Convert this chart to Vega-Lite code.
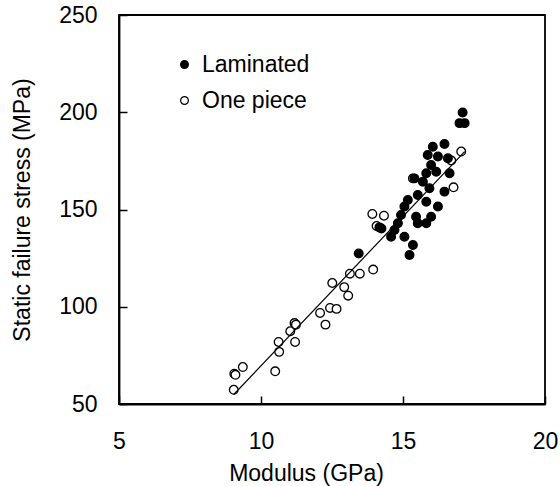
{
  "$schema": "https://vega.github.io/schema/vega-lite/v6.json",
  "description": "Static failure stress against modulus, laminated and one-piece specimens.",
  "autosize": "none",
  "padding": {"left": 119, "top": 15, "right": 15, "bottom": 82},
  "width": 426,
  "height": 389,
  "config": {
    "font": "Liberation Sans",
    "view": {"stroke": "black", "strokeWidth": 1.8},
    "axis": {
      "grid": false,
      "domainColor": "black",
      "domainWidth": 1.8,
      "tickColor": "black",
      "tickWidth": 1.5,
      "labelColor": "black",
      "labelFontSize": 23,
      "labelFont": "Liberation Sans",
      "titleColor": "black",
      "titleFontSize": 23,
      "titleFont": "Liberation Sans",
      "titleFontWeight": "normal"
    }
  },
  "datasets": {
    "specimens": [
      {"modulus": 9.04, "stress": 57.3, "type": "One piece"},
      {"modulus": 9.06, "stress": 65.6, "type": "One piece"},
      {"modulus": 9.1, "stress": 65.0, "type": "One piece"},
      {"modulus": 9.36, "stress": 69.0, "type": "One piece"},
      {"modulus": 10.5, "stress": 66.8, "type": "One piece"},
      {"modulus": 10.62, "stress": 81.9, "type": "One piece"},
      {"modulus": 10.64, "stress": 76.8, "type": "One piece"},
      {"modulus": 11.03, "stress": 87.4, "type": "One piece"},
      {"modulus": 11.18, "stress": 91.6, "type": "One piece"},
      {"modulus": 11.23, "stress": 90.8, "type": "One piece"},
      {"modulus": 11.2, "stress": 81.9, "type": "One piece"},
      {"modulus": 12.08, "stress": 96.8, "type": "One piece"},
      {"modulus": 12.27, "stress": 90.8, "type": "One piece"},
      {"modulus": 12.43, "stress": 99.4, "type": "One piece"},
      {"modulus": 12.66, "stress": 98.9, "type": "One piece"},
      {"modulus": 12.51, "stress": 112.2, "type": "One piece"},
      {"modulus": 12.93, "stress": 110.1, "type": "One piece"},
      {"modulus": 13.07, "stress": 105.7, "type": "One piece"},
      {"modulus": 13.13, "stress": 117.0, "type": "One piece"},
      {"modulus": 13.48, "stress": 117.0, "type": "One piece"},
      {"modulus": 13.95, "stress": 119.1, "type": "One piece"},
      {"modulus": 13.92, "stress": 147.7, "type": "One piece"},
      {"modulus": 14.07, "stress": 141.5, "type": "One piece"},
      {"modulus": 14.33, "stress": 146.8, "type": "One piece"},
      {"modulus": 15.35, "stress": 166.0, "type": "One piece"},
      {"modulus": 16.7, "stress": 175.2, "type": "One piece"},
      {"modulus": 16.78, "stress": 161.4, "type": "One piece"},
      {"modulus": 17.05, "stress": 179.8, "type": "One piece"},
      {"modulus": 13.44, "stress": 127.4, "type": "Laminated"},
      {"modulus": 14.17, "stress": 140.8, "type": "Laminated"},
      {"modulus": 14.24, "stress": 140.2, "type": "Laminated"},
      {"modulus": 14.58, "stress": 136.0, "type": "Laminated"},
      {"modulus": 14.7, "stress": 139.5, "type": "Laminated"},
      {"modulus": 14.82, "stress": 142.9, "type": "Laminated"},
      {"modulus": 14.93, "stress": 147.2, "type": "Laminated"},
      {"modulus": 15.05, "stress": 151.5, "type": "Laminated"},
      {"modulus": 15.05, "stress": 136.0, "type": "Laminated"},
      {"modulus": 15.17, "stress": 154.9, "type": "Laminated"},
      {"modulus": 15.23, "stress": 126.6, "type": "Laminated"},
      {"modulus": 15.35, "stress": 131.7, "type": "Laminated"},
      {"modulus": 15.4, "stress": 166.0, "type": "Laminated"},
      {"modulus": 15.46, "stress": 146.3, "type": "Laminated"},
      {"modulus": 15.52, "stress": 157.5, "type": "Laminated"},
      {"modulus": 15.52, "stress": 142.9, "type": "Laminated"},
      {"modulus": 15.7, "stress": 164.3, "type": "Laminated"},
      {"modulus": 15.82, "stress": 168.6, "type": "Laminated"},
      {"modulus": 15.82, "stress": 154.0, "type": "Laminated"},
      {"modulus": 15.82, "stress": 142.9, "type": "Laminated"},
      {"modulus": 15.87, "stress": 178.0, "type": "Laminated"},
      {"modulus": 15.93, "stress": 160.9, "type": "Laminated"},
      {"modulus": 15.99, "stress": 172.9, "type": "Laminated"},
      {"modulus": 15.99, "stress": 146.3, "type": "Laminated"},
      {"modulus": 16.05, "stress": 182.3, "type": "Laminated"},
      {"modulus": 16.17, "stress": 169.4, "type": "Laminated"},
      {"modulus": 16.23, "stress": 177.2, "type": "Laminated"},
      {"modulus": 16.23, "stress": 151.5, "type": "Laminated"},
      {"modulus": 16.46, "stress": 183.7, "type": "Laminated"},
      {"modulus": 16.46, "stress": 159.2, "type": "Laminated"},
      {"modulus": 16.58, "stress": 176.3, "type": "Laminated"},
      {"modulus": 16.64, "stress": 168.6, "type": "Laminated"},
      {"modulus": 16.99, "stress": 194.4, "type": "Laminated"},
      {"modulus": 17.17, "stress": 194.4, "type": "Laminated"},
      {"modulus": 17.1, "stress": 199.9, "type": "Laminated"}
    ],
    "fit": [
      {"modulus": 9.04, "stress": 54.9},
      {"modulus": 17.17, "stress": 179.8}
    ]
  },
  "resolve": {"axis": {"x": "independent", "y": "independent"}},
  "layer": [
    {
      "data": {"name": "specimens"},
      "mark": {"type": "point", "shape": "circle", "filled": true, "stroke": "black", "strokeWidth": 1.3, "size": 75, "opacity": 1},
      "encoding": {
        "x": {
          "field": "modulus",
          "type": "quantitative",
          "title": "Modulus (GPa)",
          "scale": {"domain": [5, 20], "nice": false, "zero": false},
          "axis": {"orient": "bottom", "values": [5, 10, 15, 20], "ticks": false, "labelFlush": false, "labelPadding": 26, "titlePadding": 9, "titleX": 187}
        },
        "y": {
          "field": "stress",
          "type": "quantitative",
          "title": "Static failure stress (MPa)",
          "scale": {"domain": [50, 250], "nice": false, "zero": false},
          "axis": {"orient": "left", "values": [50, 100, 150, 200, 250], "ticks": false, "labelPadding": 22, "titlePadding": 24}
        },
        "fill": {
          "field": "type",
          "type": "nominal",
          "scale": {"domain": ["Laminated", "One piece"], "range": ["black", "white"]},
          "legend": {
            "title": null,
            "orient": "none",
            "legendX": 54,
            "legendY": 38,
            "padding": 0,
            "symbolType": "circle",
            "symbolSize": 60,
            "symbolStrokeColor": "black",
            "symbolStrokeWidth": 1.2,
            "labelFontSize": 23,
            "labelFont": "Liberation Sans",
            "labelColor": "black",
            "labelOffset": 6,
            "rowPadding": 12
          }
        }
      }
    },
    {
      "data": {"name": "fit"},
      "mark": {"type": "line", "color": "black", "strokeWidth": 1.2},
      "encoding": {
        "x": {
          "field": "modulus",
          "type": "quantitative",
          "axis": {"orient": "bottom", "offset": -8, "values": [5, 10, 15, 20], "domain": false, "labels": false, "title": null, "tickSize": 8}
        },
        "y": {
          "field": "stress",
          "type": "quantitative",
          "axis": {"orient": "left", "offset": -8, "values": [50, 100, 150, 200, 250], "domain": false, "labels": false, "title": null, "tickSize": 8}
        }
      }
    }
  ]
}
